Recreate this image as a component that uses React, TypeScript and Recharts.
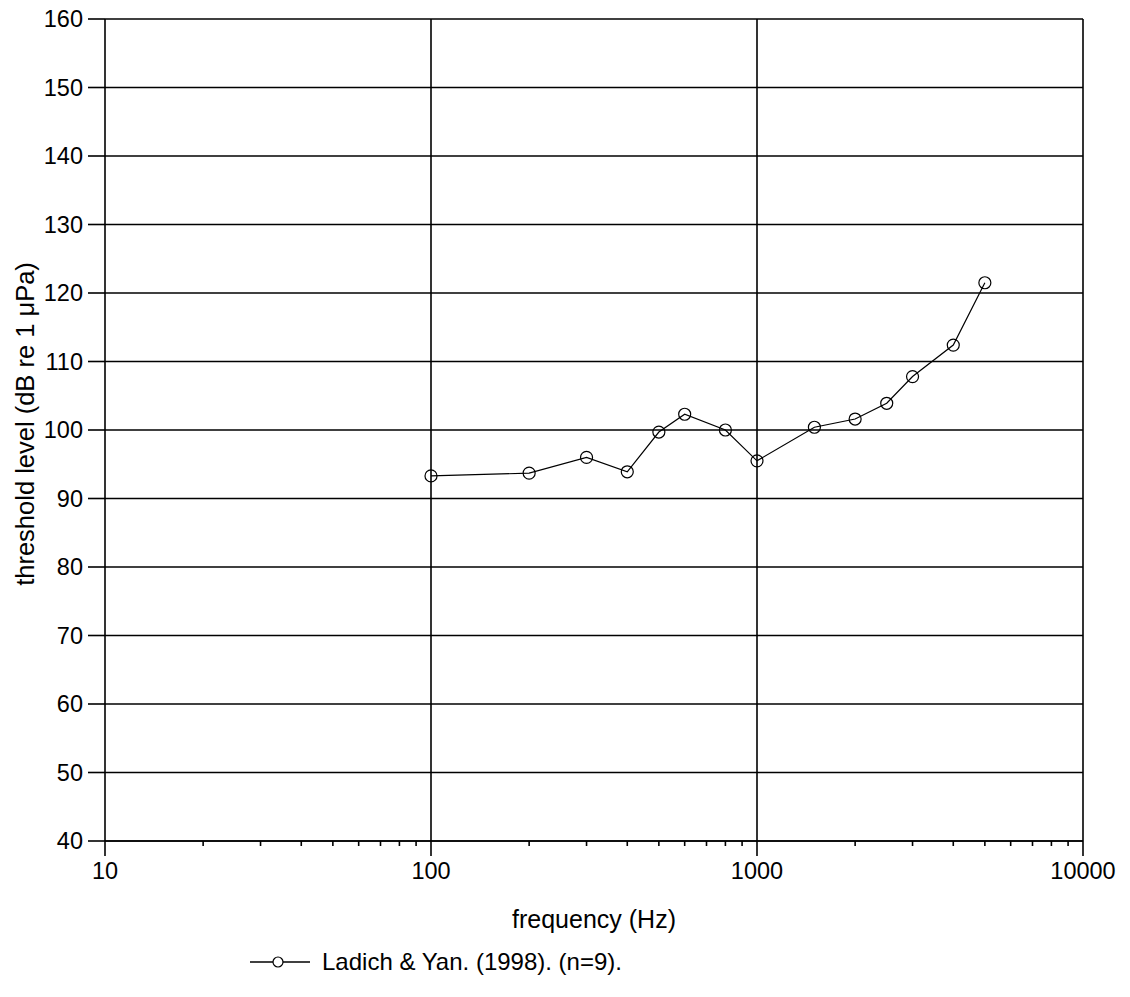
import React from "react";
import {
  LineChart,
  Line,
  XAxis,
  YAxis,
  CartesianGrid,
  ReferenceLine,
  Label,
} from "recharts";

const frequencies = [100, 200, 300, 400, 500, 600, 800, 1000, 1500, 2000, 2500, 3000, 4000, 5000];
const thresholds = [93.3, 93.7, 96.0, 93.9, 99.7, 102.3, 100.0, 95.5, 100.4, 101.6, 103.9, 107.8, 112.4, 121.5];

const majorTicks = [10, 100, 1000, 10000];
const xTicks = [
  10, 20, 30, 40, 50, 60, 70, 80, 90,
  100, 200, 300, 400, 500, 600, 700, 800, 900,
  1000, 2000, 3000, 4000, 5000, 6000, 7000, 8000, 9000,
  10000,
];
const yTicks = [40, 50, 60, 70, 80, 90, 100, 110, 120, 130, 140, 150, 160];

const seriesName = "Ladich & Yan. (1998). (n=9).";

const data = frequencies.map((f, i) => ({ freq: f, level: thresholds[i] }));

const FONT = "'Liberation Sans', Arial, sans-serif";
const INK = "#000";

function FreqTick(props: any) {
  const { x, y, payload } = props;
  const major = majorTicks.includes(payload.value);
  return (
    <g>
      <line x1={x} y1={y} x2={x} y2={y + (major ? 15 : 5)} stroke={INK} strokeWidth={1.6} />
      {major && (
        <text x={x} y={y + 38} textAnchor="middle" fontSize={23.5} fontFamily={FONT} fill={INK}>
          {payload.value}
        </text>
      )}
    </g>
  );
}

export default function App() {
  return (
    <div style={{ position: "absolute", left: 0, top: 0, width: 1130, height: 997, background: "#fff" }}>
      <LineChart
        width={1130}
        height={997}
        data={data}
        margin={{ top: 19, right: 47, bottom: 66, left: 0 }}
      >
        <CartesianGrid vertical={false} stroke={INK} strokeWidth={1.6} />
        <ReferenceLine x={100} stroke={INK} strokeWidth={1.6} />
        <ReferenceLine x={1000} stroke={INK} strokeWidth={1.6} />
        <ReferenceLine x={10000} stroke={INK} strokeWidth={1.6} />
        <XAxis
          dataKey="freq"
          type="number"
          scale="log"
          domain={[10, 10000]}
          ticks={xTicks}
          interval={0}
          allowDataOverflow
          tickLine={false}
          tickSize={0}
          tickMargin={0}
          tick={<FreqTick />}
          height={90}
          axisLine={{ stroke: INK, strokeWidth: 1.6 }}
        >
          <Label
            content={() => (
              <text x={594} y={928} textAnchor="middle" fontSize={25} fontFamily={FONT} fill={INK}>
                frequency (Hz)
              </text>
            )}
          />
        </XAxis>
        <YAxis
          type="number"
          domain={[40, 160]}
          ticks={yTicks}
          interval={0}
          width={105}
          tickSize={17}
          tickMargin={5}
          tickLine={{ stroke: INK, strokeWidth: 1.6 }}
          axisLine={{ stroke: INK, strokeWidth: 1.6 }}
          tick={{ fontSize: 23.5, fontFamily: FONT, fill: INK }}
        >
          <Label
            content={() => (
              <text
                x={34}
                y={424}
                transform="rotate(-90, 34, 424)"
                textAnchor="middle"
                fontSize={25.5}
                fontFamily={FONT}
                fill={INK}
              >
                threshold level (dB re 1 μPa)
              </text>
            )}
          />
        </YAxis>
        <Line
          type="linear"
          dataKey="level"
          name={seriesName}
          stroke={INK}
          strokeWidth={1.2}
          dot={{ r: 6, stroke: INK, strokeWidth: 1.2, fill: "none" }}
          isAnimationActive={false}
        />
      </LineChart>
      <svg
        width={500}
        height={30}
        style={{ position: "absolute", left: 240, top: 947 }}
      >
        <line x1={10} y1={15} x2={70} y2={15} stroke={INK} strokeWidth={1.6} />
        <circle cx={38} cy={15} r={5} stroke={INK} strokeWidth={1.2} fill="#fff" />
        <text x={82} y={23} fontSize={24} fontFamily={FONT} fill={INK}>
          {seriesName}
        </text>
      </svg>
    </div>
  );
}
